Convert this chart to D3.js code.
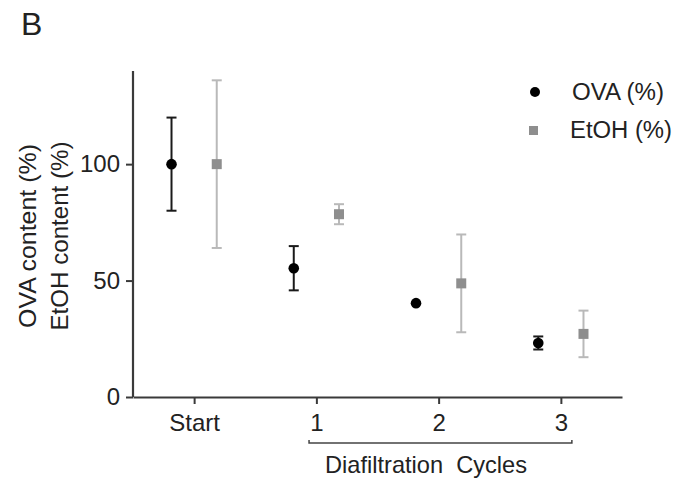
<!DOCTYPE html>
<html>
<head>
<meta charset="utf-8">
<script src="https://cdn.jsdelivr.net/npm/d3@7"></script>
<style>
  body { margin: 0; background: #fff; }
  svg text { font-family: "Liberation Sans", Arial, sans-serif; fill: #222; }
</style>
</head>
<body>
<svg id="chart" width="694" height="484"></svg>
<script>
// Data: mean and error (+/-) per time point.
const stages = [0, 1, 2, 3];
const stageLabels = ["Start", "1", "2", "3"];
const ovaMean = [100, 55.3, 40.3, 23.2];
const ovaErr = [20, 9.5, 0, 2.8];
const etohMean = [100, 78.5, 48.8, 27.1];
const etohErr = [36, 4.3, 21, 10];
const yTicks = [0, 50, 100];

const svg = d3.select("#chart");

// Scales: x spans half a step either side of the stages
let x = d3.scaleLinear().domain([-0.5, 3.5]).range([133, 622]);
let y = d3.scaleLinear().domain([0, 140]).range([397, 71]);
const offset = 0.185;

// Panel letter
svg.append("text")
    .attr("x", 21).attr("y", 35)
    .style("font-size", "32px")
    .text("B");

// Axes
let yAxis = d3.axisLeft(y).tickValues(yTicks).tickSize(7).tickPadding(6).tickSizeOuter(0);
let xAxis = d3.axisBottom(x).tickValues(stages).tickSize(7).tickPadding(10).tickSizeOuter(0)
    .tickFormat((d, i) => stageLabels[i]);

let gy = svg.append("g").attr("transform", "translate(" + x(-0.5) + ",0)").call(yAxis);
let gx = svg.append("g").attr("transform", "translate(0," + y(0) + ")").call(xAxis);

[gx, gy].forEach(g => {
    g.select(".domain").attr("stroke", "#3a3a3a").attr("stroke-width", 2.2);
    g.selectAll(".tick line").attr("stroke", "#3a3a3a").attr("stroke-width", 2);
    g.selectAll(".tick text").style("font-size", "24px").attr("fill", "#2a2a2a")
        .style("font-family", "'Liberation Sans', Arial, sans-serif");
});
gy.select(".domain").attr("d", "M0," + y(140) + "V" + y(0));

// Y axis title (two lines, rotated)
let ytitle = svg.append("g").attr("transform", "translate(0,236) rotate(-90)");
ytitle.append("text").attr("x", 0).attr("y", 36).attr("text-anchor", "middle")
    .attr("textLength", 184).attr("lengthAdjust", "spacingAndGlyphs")
    .style("font-size", "24px").text("OVA content (%)");
ytitle.append("text").attr("x", 0).attr("y", 68).attr("text-anchor", "middle")
    .attr("textLength", 189).attr("lengthAdjust", "spacingAndGlyphs")
    .style("font-size", "24px").text("EtOH content (%)");

// Bracket under cycles 1-3
let bx0 = x(0.94), bx1 = x(3.09), by = 443;
svg.append("path")
    .attr("d", "M" + bx0 + "," + (by - 3) + "V" + by + "H" + bx1 + "V" + (by - 3))
    .attr("fill", "none").attr("stroke", "#444").attr("stroke-width", 1.5);
svg.append("text")
    .attr("x", 325).attr("y", 473)
    .attr("textLength", 202).attr("lengthAdjust", "spacingAndGlyphs")
    .style("font-size", "24px")
    .style("white-space", "pre")
    .text("Diafiltration  Cycles");

// Error bars + markers
function drawSeries(means, errs, dx, barColor, draw) {
    let g = svg.append("g");
    let rows = stages.map((s, i) => ({s: s, m: means[i], e: errs[i]}));
    let bars = g.selectAll(".err").data(rows.filter(d => d.e > 0)).enter().append("g");
    bars.append("line")
        .attr("x1", d => x(d.s + dx)).attr("x2", d => x(d.s + dx))
        .attr("y1", d => y(d.m - d.e)).attr("y2", d => y(d.m + d.e))
        .attr("stroke", barColor).attr("stroke-width", 2);
    [1, -1].forEach(sign => {
        bars.append("line")
            .attr("x1", d => x(d.s + dx) - 5).attr("x2", d => x(d.s + dx) + 5)
            .attr("y1", d => y(d.m + sign * d.e)).attr("y2", d => y(d.m + sign * d.e))
            .attr("stroke", barColor).attr("stroke-width", 2);
    });
    draw(g.selectAll(".pt").data(rows).enter());
}

drawSeries(etohMean, etohErr, offset, "#b9b9b9", sel => sel.append("rect")
    .attr("x", d => x(d.s + offset) - 5).attr("y", d => y(d.m) - 5)
    .attr("width", 10).attr("height", 10).attr("fill", "#8e8e8e"));

drawSeries(ovaMean, ovaErr, -offset, "#1a1a1a", sel => sel.append("circle")
    .attr("cx", d => x(d.s - offset)).attr("cy", d => y(d.m))
    .attr("r", 5.3).attr("fill", "#000"));

// Legend
let legend = svg.append("g");
legend.append("circle").attr("cx", 535).attr("cy", 92).attr("r", 5).attr("fill", "#000");
legend.append("text").attr("x", 572).attr("y", 100)
    .attr("textLength", 92).attr("lengthAdjust", "spacingAndGlyphs")
    .style("font-size", "23px").text("OVA (%)");
legend.append("rect").attr("x", 529).attr("y", 126).attr("width", 9).attr("height", 9).attr("fill", "#8e8e8e");
legend.append("text").attr("x", 570).attr("y", 138)
    .attr("textLength", 102).attr("lengthAdjust", "spacingAndGlyphs")
    .style("font-size", "23px").text("EtOH (%)");
</script>
</body>
</html>
